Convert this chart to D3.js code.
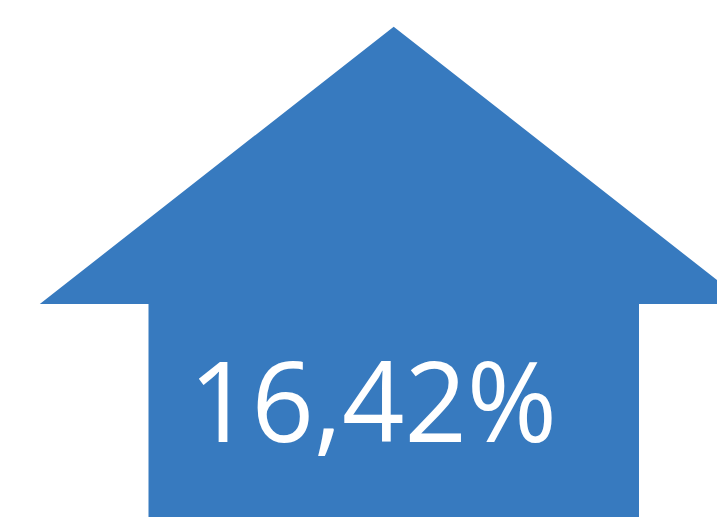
<!DOCTYPE html>
<html>
<head>
<meta charset="utf-8">
<script src="https://cdn.jsdelivr.net/npm/d3@7"></script>
<style>
  html, body { margin: 0; padding: 0; background: #fff; overflow: hidden; }
  svg { display: block; }
</style>
</head>
<body>
<script>
// Data
const categories = ["Variación"];
const values = [16.42];
const labels = ["16,42%"];

const W = 717, H = 517;
const svg = d3.select("body").append("svg").attr("width", W).attr("height", H);

// Arrow shape in unit coordinates mapped through scales
const x = d3.scaleLinear().domain([0, 1]).range([39.8, 747.6]);
const y = d3.scaleLinear().domain([0, 1]).range([26.7, 517]);
const headBase = (304 - 26.7) / (517 - 26.7);
const shaftL = (148.5 - 39.8) / (747.6 - 39.8);
const shaftR = (639 - 39.8) / (747.6 - 39.8);

const unitArrow = [
  [0.5, 0], [1, headBase], [shaftR, headBase], [shaftR, 1],
  [shaftL, 1], [shaftL, headBase], [0, headBase]
];

const line = d3.line().x(d => x(d[0])).y(d => y(d[1])).curve(d3.curveLinearClosed);

const g = svg.selectAll("g.arrow").data(values).join("g").attr("class", "arrow");
g.append("path")
  .attr("d", line(unitArrow))
  .attr("fill", "#377abf");

g.append("text")
  .attr("x", 373)
  .attr("y", 441.5)
  .attr("text-anchor", "middle")
  .attr("font-family", "'Open Sans', sans-serif")
  .attr("font-size", 112)
  .attr("fill", "#ffffff")
  .attr("textLength", 368)
  .attr("lengthAdjust", "spacingAndGlyphs")
  .text((d, i) => labels[i]);
</script>
</body>
</html>
